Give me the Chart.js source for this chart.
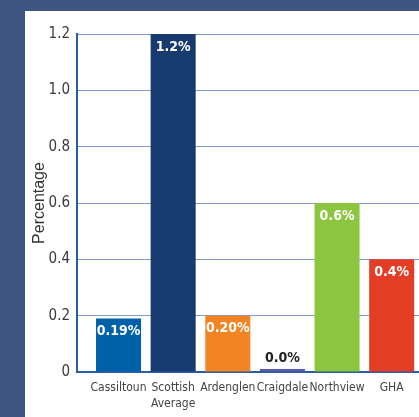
<!DOCTYPE html>
<html>
<head>
<meta charset="utf-8">
<script src="https://cdn.jsdelivr.net/npm/chart.js@4/dist/chart.umd.min.js"></script>
<style>
    html, body { margin: 0; padding: 0; }
    body { width: 419px; height: 417px; background: #3d5580; overflow: hidden; position: relative; }
    #panel { position: absolute; left: 25px; top: 11px; width: 394px; height: 406px; background: #fff; }
    canvas { display: block; }
</style>
</head>
<body>
<div id="panel"><canvas id="rateChart" width="394" height="406"></canvas></div>
<script>
const categories = ['Cassiltoun', ['Scottish', 'Average'], 'Ardenglen', 'Craigdale', 'Northview', 'GHA'];
const values = [0.19, 1.2, 0.20, 0.0, 0.6, 0.4];
const valueLabels = ['0.19%', '1.2%', '0.20%', '0.0%', '0.6%', '0.4%'];
const barColors = ['#0061a9', '#183b6f', '#f38423', '#5b5ba8', '#8cc540', '#e43d25'];
const yTicks = [0, 0.2, 0.4, 0.6, 0.8, 1.0, 1.2];

const narrow = '"Liberation Sans Narrow", "DejaVu Sans Condensed", sans-serif';

// value text on each bar: white inside the bar, dark above it when the bar is flat
const barLabels = {
    id: 'barLabels',
    afterDatasetsDraw(chart) {
        const ctx = chart.ctx;
        const meta = chart.getDatasetMeta(0);
        ctx.save();
        ctx.font = 'bold 14px ' + narrow;
        ctx.textAlign = 'center';
        ctx.textBaseline = 'middle';
        meta.data.forEach((bar, i) => {
            if (values[i] > 0.05) {
                ctx.fillStyle = '#ffffff';
                ctx.fillText(valueLabels[i], bar.x, bar.y + 13);
            } else {
                ctx.fillStyle = '#222222';
                ctx.fillText(valueLabels[i], bar.x, bar.y - 11);
            }
        });
        ctx.restore();
    }
};

new Chart(document.getElementById('rateChart'), {
    type: 'bar',
    data: {
        datasets: [{
            data: values.map((v, i) => ({ x: i, y: v })),
            backgroundColor: barColors,
            borderWidth: 0,
            barPercentage: 0.824,
            categoryPercentage: 1,
            minBarLength: 3
        }]
    },
    options: {
        responsive: false,
        devicePixelRatio: 1,
        animation: false,
        layout: { padding: { top: 23, right: 0, bottom: 0, left: 0 } },
        plugins: {
            legend: { display: false },
            tooltip: { enabled: false }
        },
        scales: {
            x: {
                type: 'linear',
                min: -0.76,
                max: 5.5,
                offset: false,
                grid: { display: false, drawTicks: false },
                border: { color: '#2b5ca6', width: 2 },
                ticks: {
                    stepSize: 1,
                    includeBounds: false,
                    autoSkip: false,
                    maxRotation: 0,
                    padding: 8,
                    color: '#444',
                    font: { family: narrow, size: 12, lineHeight: 1.35 },
                    callback: (v) => Number.isInteger(v) && categories[v] ? categories[v] : ''
                },
                afterFit: (scale) => { scale.height = 45; }
            },
            y: {
                min: 0,
                max: 1.2,
                afterBuildTicks: (scale) => { scale.ticks = yTicks.map(v => ({ value: v })); },
                grid: { color: '#7f9bcb', lineWidth: 1, drawTicks: false },
                border: { color: '#2b5ca6', width: 2 },
                ticks: {
                    padding: 7,
                    color: '#3a3a3a',
                    font: { family: narrow, size: 15 },
                    callback: (v) => v === 0 ? '0' : v.toFixed(1)
                },
                title: {
                    display: true,
                    text: 'Percentage',
                    color: '#333',
                    font: { family: '"Liberation Sans", sans-serif', size: 16 },
                    padding: { top: 5, bottom: 0 }
                },
                afterFit: (scale) => { scale.width = 52; }
            }
        }
    },
    plugins: [barLabels]
});
</script>
</body>
</html>
